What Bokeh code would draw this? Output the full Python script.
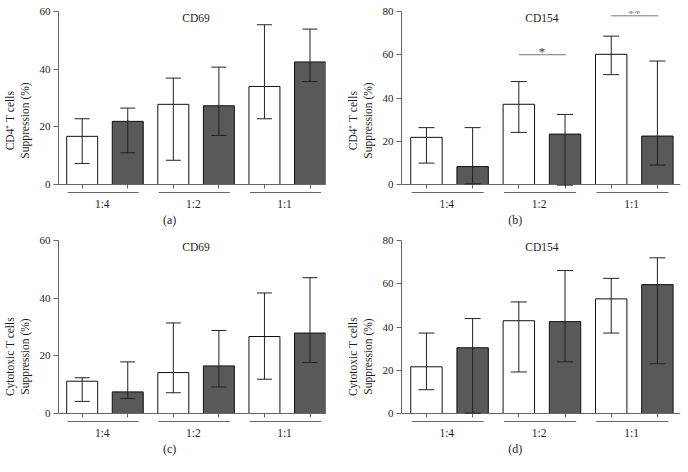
from bokeh.plotting import figure
from bokeh.models import ColumnDataSource, Whisker, TeeHead, FixedTicker, LinearAxis, Range1d
from bokeh.layouts import gridplot
from bokeh.core.properties import value
from bokeh.embed import file_html
from bokeh.resources import INLINE

# ---------------- data ----------------
groups = ["1:4", "1:2", "1:1"]

# (a) CD4+ T cells, CD69
a_white = [16.7, 27.8, 34.0]
a_white_hi = [22.8, 36.9, 55.4]
a_white_lo = [7.3, 8.4, 22.8]
a_dark = [21.9, 27.3, 42.5]
a_dark_hi = [26.5, 40.7, 53.9]
a_dark_lo = [11.0, 17.0, 35.7]

# (b) CD4+ T cells, CD154
b_white = [21.8, 37.1, 60.2]
b_white_hi = [26.3, 47.6, 68.6]
b_white_lo = [9.9, 24.1, 50.8]
b_dark = [8.3, 23.3, 22.4]
b_dark_hi = [26.3, 32.4, 57.1]
b_dark_lo = [0.3, -0.3, 9.0]
b_sig_groups = [1, 2]
b_sig_labels = ["*", "**"]
b_sig_levels = [60.0, 78.0]

# (c) Cytotoxic T cells, CD69
c_white = [11.2, 14.2, 26.7]
c_white_hi = [12.4, 31.4, 41.8]
c_white_lo = [4.2, 7.2, 11.9]
c_dark = [7.5, 16.5, 27.9]
c_dark_hi = [17.9, 28.8, 47.1]
c_dark_lo = [5.2, 9.2, 17.7]

# (d) Cytotoxic T cells, CD154
d_white = [21.6, 42.9, 53.0]
d_white_hi = [37.2, 51.6, 62.5]
d_white_lo = [11.0, 19.2, 37.2]
d_dark = [30.4, 42.5, 59.6]
d_dark_hi = [43.9, 66.1, 72.0]
d_dark_lo = [0.2, 23.9, 23.0]

yticks_60 = [0, 20, 40, 60]
yticks_80 = [0, 20, 40, 60, 80]

# ---------------- style / layout ----------------
FONT = "Liberation Serif"
AXC = "#666666"
DARK = "#595959"
ERRC = "#222222"
TXT = "#1e1e1e"
FIG_W = 344


def make_panel(title, tag, ylabel, yticks, white, wlo, whi, dark, dlo, dhi,
               left, frame_w, xr, fig_h, top, y0, cap, sig=None):
    ymax = yticks[-1]
    ppu = (y0 - top) / ymax
    ystart = -(fig_h - y0) / ppu
    p = figure(width=FIG_W, height=fig_h, x_range=Range1d(*xr),
               y_range=Range1d(ystart, ymax), x_axis_type=None,
               toolbar_location=None, output_backend="svg",
               min_border_left=left, min_border_right=FIG_W - left - frame_w,
               min_border_top=top, min_border_bottom=0)
    p.outline_line_color = None
    p.grid.visible = False

    n = len(groups)
    idx = list(range(n))
    xw = [i - 0.25 for i in idx]
    xd = [i + 0.25 for i in idx]

    p.vbar(x=xw, top=white, bottom=0, width=0.34, fill_color="white",
           line_color="#111111", line_width=1)
    p.vbar(x=xd, top=dark, bottom=0, width=0.34, fill_color=DARK,
           line_color="#111111", line_width=1)

    src = ColumnDataSource(dict(x=xw + xd, lo=wlo + dlo, hi=whi + dhi))
    w = Whisker(source=src, base="x", lower="lo", upper="hi", dimension="height",
                line_color=ERRC, line_width=1, level="annotation",
                upper_head=TeeHead(size=cap, line_color=ERRC, line_width=1),
                lower_head=TeeHead(size=cap, line_color=ERRC, line_width=1))
    p.add_layout(w)

    xa = LinearAxis(fixed_location=0, ticker=FixedTicker(ticks=sorted(xw + xd)),
                    major_label_text_color=None, major_tick_in=0,
                    major_tick_out=4, minor_tick_line_color=None,
                    axis_line_color=AXC, major_tick_line_color=AXC)
    p.add_layout(xa, "below")

    ya = p.yaxis[0]
    ya.ticker = FixedTicker(ticks=yticks)
    ya.bounds = (0, ymax)
    ya.axis_label = ylabel
    ya.axis_label_text_font = FONT
    ya.axis_label_text_font_style = "normal"
    ya.axis_label_text_font_size = "11.5px"
    ya.axis_label_text_color = TXT
    ya.axis_label_standoff = 6
    ya.major_label_text_font = FONT
    ya.major_label_text_font_size = "11px"
    ya.major_label_text_color = TXT
    ya.major_label_standoff = 3
    ya.major_tick_in = 0
    ya.major_tick_out = 5
    ya.minor_tick_line_color = None
    ya.axis_line_color = AXC
    ya.major_tick_line_color = AXC

    # group underlines and labels
    p.segment(x0=[i - 0.41 for i in idx], x1=[i + 0.37 for i in idx],
              y0=[-8 / ppu] * n, y1=[-8 / ppu] * n, line_color=AXC, line_width=1)
    p.text(x=[i - 0.03 for i in idx], y=[-19 / ppu] * n, text=groups,
           text_font=value(FONT), text_font_size=value("11.5px"),
           text_align="center", text_baseline="middle", text_color=TXT)
    # panel tag
    p.text(x=[0.71], y=[-35.5 / ppu], text=[tag], text_font=value(FONT),
           text_font_size=value("12px"), text_align="center",
           text_baseline="middle", text_color=TXT)
    # panel title
    p.text(x=[1.0], y=[ymax - 6 / ppu], text=[title], text_font=value(FONT),
           text_font_size=value("11.5px"), text_align="center",
           text_baseline="middle", text_color=TXT)

    if sig is not None:
        sg, sl, sv = sig
        p.segment(x0=[g - 0.25 for g in sg], x1=[g + 0.26 for g in sg],
                  y0=sv, y1=sv, line_color="#777777", line_width=1)
        p.text(x=list(sg), y=[v + 3 / ppu for v in sv], text=sl,
               text_font=value(FONT), text_font_size=value("13px"),
               text_align="center", text_baseline="alphabetic",
               text_color="#333333")
    return p


lab_cd4 = "CD4\u207a T cells\nSuppression (%)"
lab_cyt = "Cytotoxic T cells\nSuppression (%)"
XR_L = (-0.51, 2.42)
XR_R = (-0.52, 2.50)
H_TOP, H_BOT = 229, 243

pa = make_panel("CD69", "(a)", lab_cd4, yticks_60, a_white, a_white_lo, a_white_hi,
                a_dark, a_dark_lo, a_dark_hi, 58, 267, XR_L, H_TOP, 11, 184, 15)
pb = make_panel("CD154", "(b)", lab_cd4, yticks_80, b_white, b_white_lo, b_white_hi,
                b_dark, b_dark_lo, b_dark_hi, 50, 286, XR_R, H_TOP, 11, 184, 16,
                sig=(b_sig_groups, b_sig_labels, b_sig_levels))
pc = make_panel("CD69", "(c)", lab_cyt, yticks_60, c_white, c_white_lo, c_white_hi,
                c_dark, c_dark_lo, c_dark_hi, 58, 267, XR_L, H_BOT, 11, 184, 15)
pd_ = make_panel("CD154", "(d)", lab_cyt, yticks_80, d_white, d_white_lo, d_white_hi,
                 d_dark, d_dark_lo, d_dark_hi, 50, 286, XR_R, H_BOT, 11, 184, 16)

grid = gridplot([[pa, pb], [pc, pd_]], toolbar_location=None)

open("out.html", "w").write(file_html(grid, INLINE))
